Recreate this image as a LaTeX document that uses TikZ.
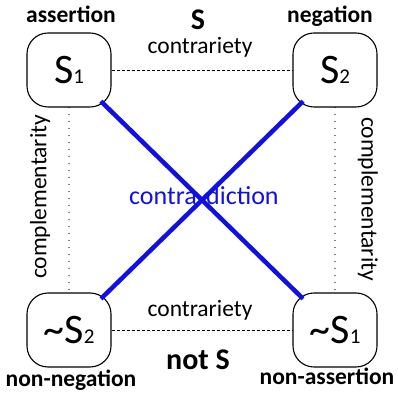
\documentclass[tikz,border=0pt]{standalone}
\usepackage{fontspec}
\setmainfont{Carlito}
\definecolor{crossblue}{RGB}{16,16,230}
\begin{document}
\begin{tikzpicture}[x=1pt,y=1pt,
  box/.style={draw, line width=1.1pt, rounded corners=21pt, minimum width=84pt, minimum height=74pt, inner sep=0pt, font=\fontsize{42}{42}\selectfont},
  lbl/.style={font=\fontsize{23.5}{23.5}\selectfont\bfseries, anchor=base, inner sep=0pt},
  big/.style={font=\fontsize{30}{30}\selectfont\bfseries, anchor=base, inner sep=0pt},
  rel/.style={font=\fontsize{23.5}{23.5}\selectfont, inner sep=0pt},
  dashline/.style={dash pattern=on 3pt off 2pt, line width=0.9pt},
  dotline/.style={dash pattern=on 0pt off 7pt, line cap=round, line width=1.3pt},
  crossline/.style={crossblue, line width=4.5pt, shorten <=-9pt, shorten >=-9pt},
  crosstext/.style={crossblue, font=\fontsize{26}{26}\selectfont, inner sep=0pt}
]
\newcommand{\sub}[1]{{\fontsize{21}{21}\selectfont #1}}
\useasboundingbox (0,0) rectangle (398,395);
\node[box] (s1) at (69,325) {S\sub{1}};
\node[box] (s2) at (335,325) {S\sub{2}};
\node[box] (ns2) at (69,65) {\textasciitilde S\sub{2}};
\node[box] (ns1) at (335,65) {\textasciitilde S\sub{1}};
\node[lbl] (la) at (71,372) {assertion};
\node[lbl] (ln) at (330,372) {negation};
\node[lbl] (lnn) at (71,8) {non-negation};
\node[lbl] (lna) at (327,10) {non-assertion};
\node[big] (top) at (198,365) {S};
\node[big] (bot) at (198,25) {not S};
\node[rel, anchor=base] (ct) at (200,341) {contrariety};
\node[rel, anchor=base] (cb) at (200,78) {contrariety};
\node[rel, rotate=90] (cl) at (40,198) {complementarity};
\node[rel, rotate=-90] (cr) at (368,196) {complementarity};
\draw[dashline] (s1) -- (s2);
\draw[dashline] (ns2) -- (ns1);
\draw[dotline] (s1) -- (ns2);
\draw[dotline] (s2) -- (ns1);
\draw[crossline] (s1) -- (ns1);
\draw[crossline] (s2) -- (ns2);
\node[crosstext, anchor=base east] (c1) at (197,190) {contra};
\node[crosstext, anchor=base west] (c2) at (206,190) {diction};
\end{tikzpicture}
\end{document}
